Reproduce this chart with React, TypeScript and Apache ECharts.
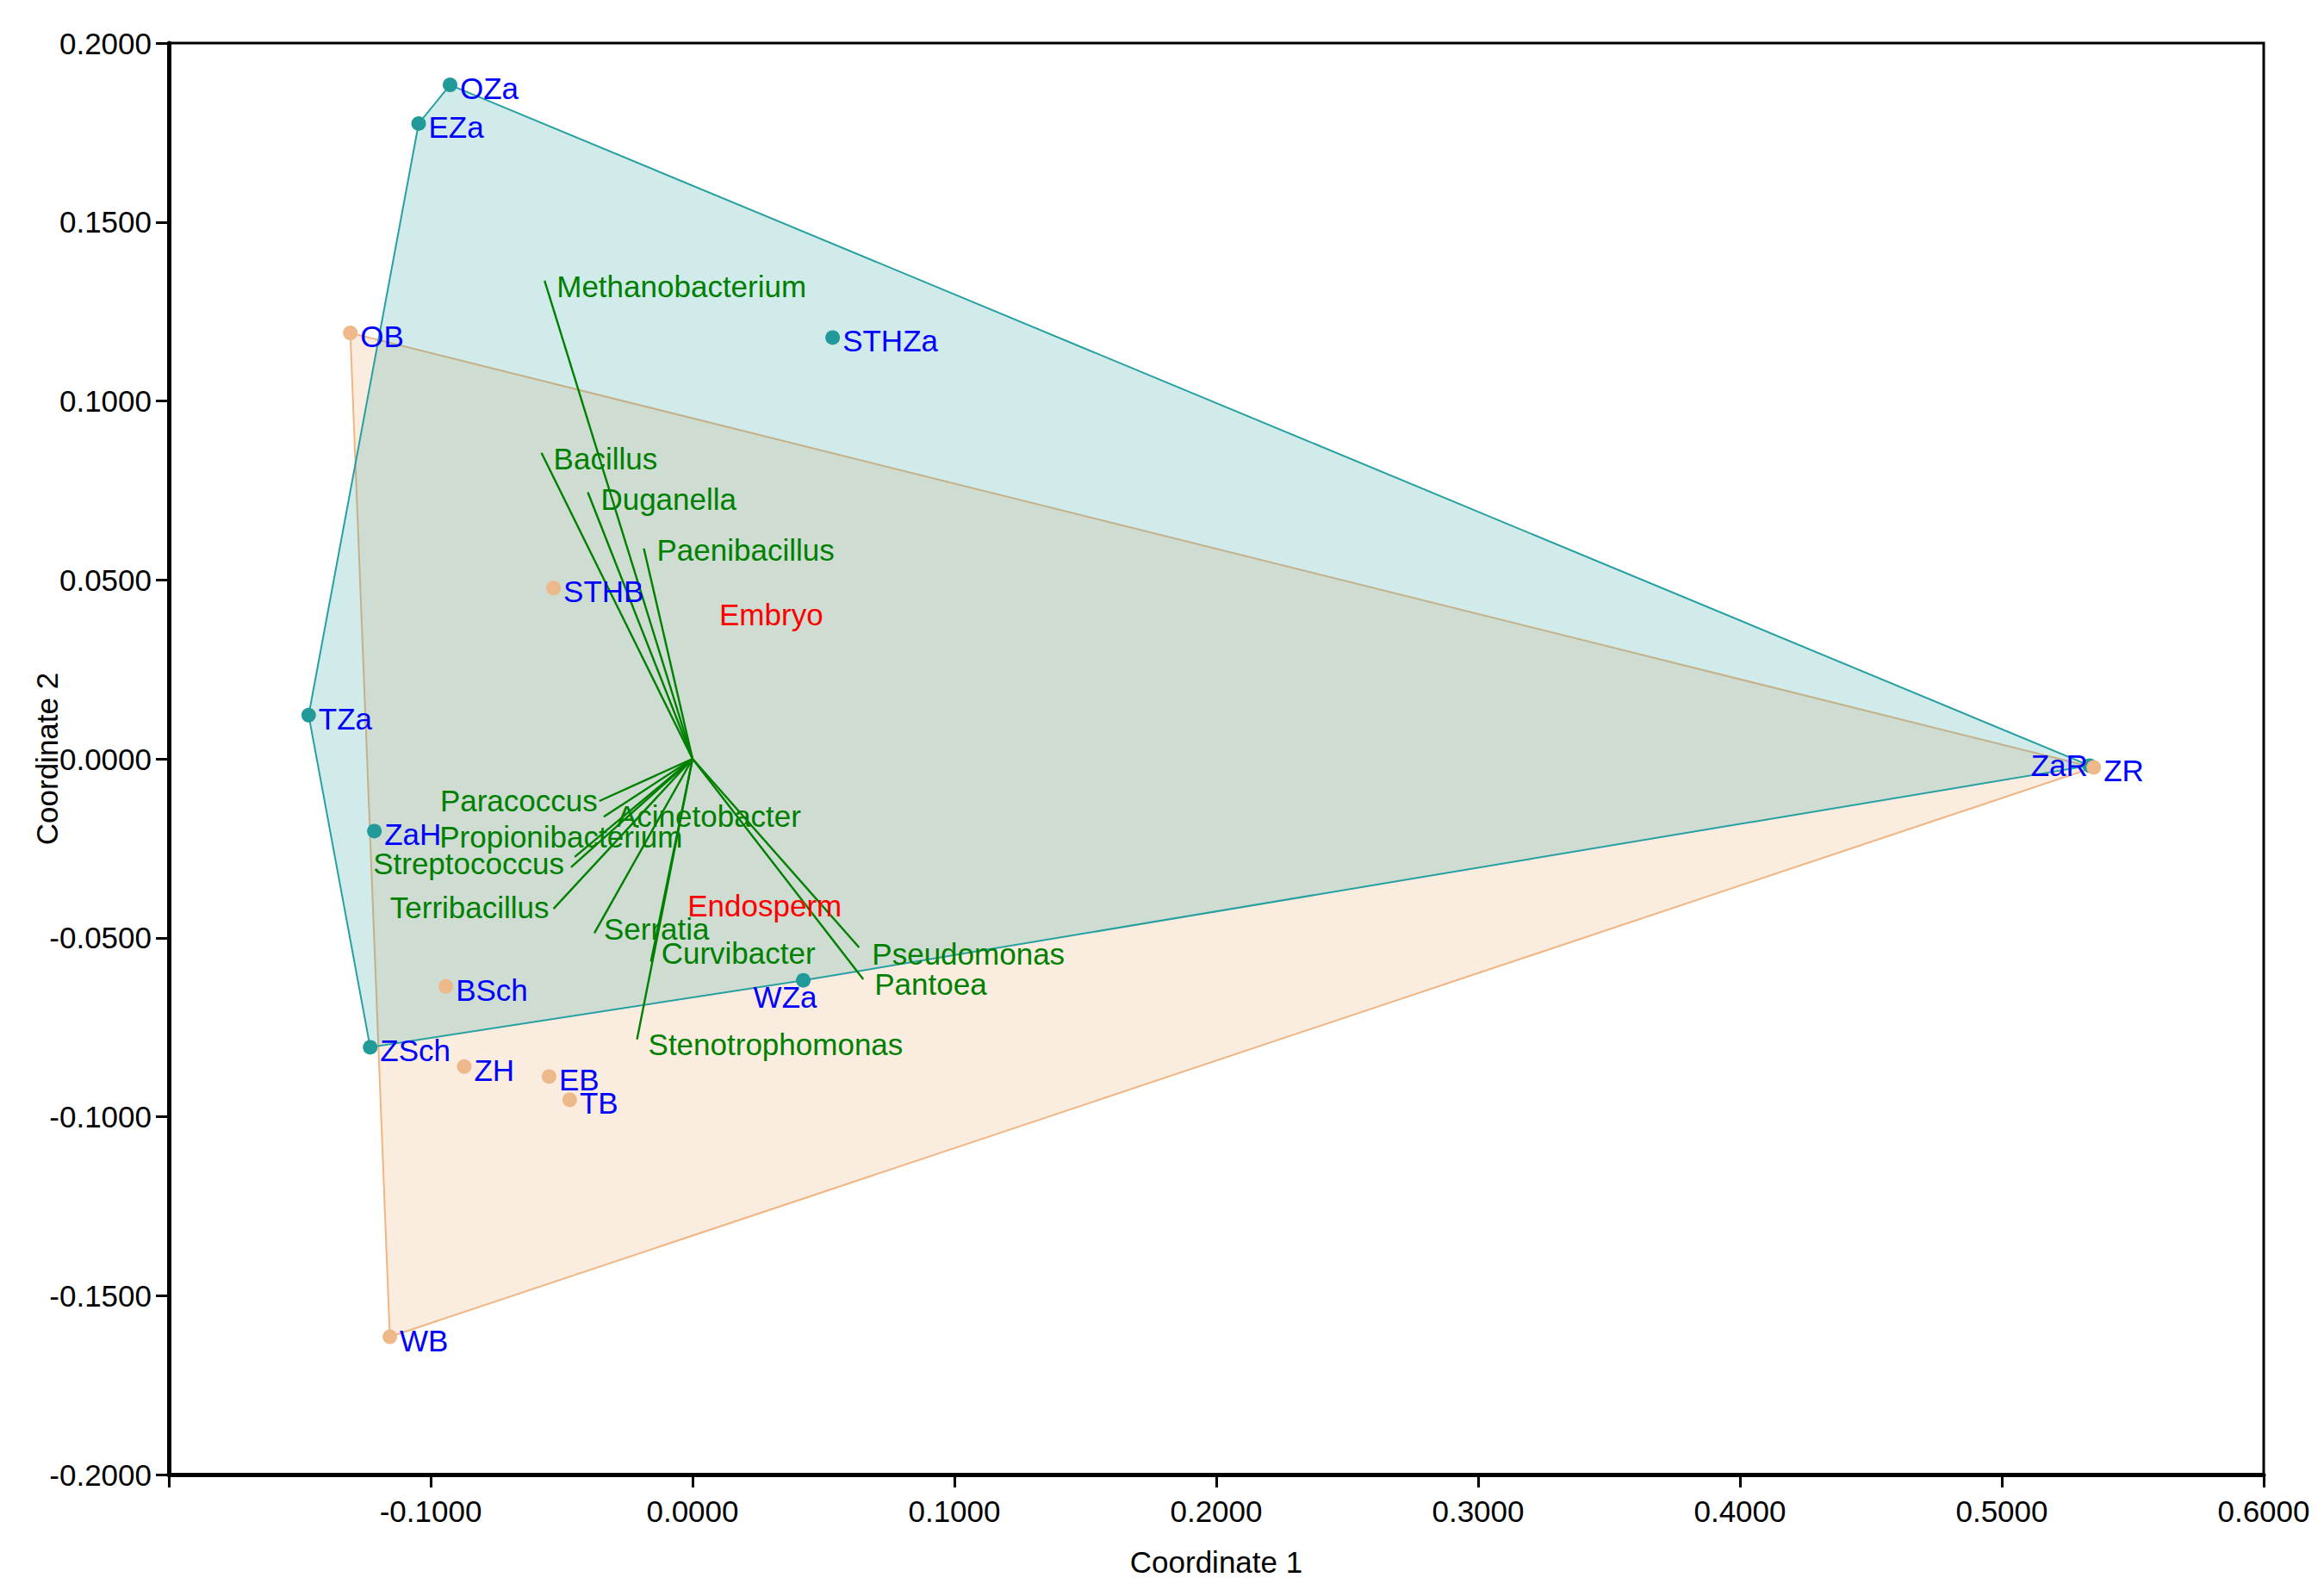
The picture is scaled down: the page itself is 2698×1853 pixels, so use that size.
import React, { useEffect, useRef } from 'react';
import * as echarts from 'echarts';

// ---- data ----
const zaNames = ['OZa', 'EZa', 'STHZa', 'TZa', 'ZaH', 'ZSch', 'WZa', 'ZaR'];
const zaX = [-0.0926, -0.1046, 0.0535, -0.1466, -0.1215, -0.1231, 0.0423, 0.5335];
const zaY = [0.1883, 0.1775, 0.1177, 0.0122, -0.0202, -0.0806, -0.0619, -0.0019];

const bNames = ['OB', 'STHB', 'BSch', 'ZH', 'EB', 'TB', 'WB', 'ZR'];
const bX = [-0.1307, -0.0531, -0.0942, -0.0872, -0.0548, -0.0469, -0.1156, 0.5351];
const bY = [0.119, 0.0477, -0.0636, -0.086, -0.0888, -0.0953, -0.1615, -0.0024];

const genusNames = [
  'Methanobacterium', 'Bacillus', 'Duganella', 'Paenibacillus', 'Paracoccus',
  'Acinetobacter', 'Propionibacterium', 'Streptococcus', 'Terribacillus', 'Serratia',
  'Curvibacter', 'Stenotrophomonas', 'Pseudomonas', 'Pantoea',
];
const genusX = [-0.0565, -0.0577, -0.04, -0.0186, -0.0356, -0.0339, -0.045, -0.0464, -0.0531, -0.0375, -0.0159, -0.0212, 0.0636, 0.0652];
const genusY = [0.1336, 0.0855, 0.0745, 0.0588, -0.0118, -0.0162, -0.0274, -0.0303, -0.0419, -0.0487, -0.0567, -0.0784, -0.0527, -0.0616];

const tissueNames = ['Embryo', 'Endosperm'];
const tissueX = [0.0102, -0.0019];
const tissueY = [0.0402, -0.0411];

const xMin = -0.2, xMax = 0.6, xStep = 0.1;
const yMin = -0.2, yMax = 0.2, yStep = 0.05;

// ---- styles ----
const FONT = '"Liberation Sans", Arial, sans-serif';
const FS = 35;
const TEAL = '#229A9A';
const TEAL_LINE = '#26A0A0';
const TEAL_FILL = 'rgba(38,160,160,0.21)';
const ORANGE = '#EDB98A';
const ORANGE_LINE = '#EFB583';
const ORANGE_FILL = 'rgba(240,180,130,0.25)';
const GREEN = '#008000';

const genusLabel: Record<string, [string, number, number]> = {
  Methanobacterium: ['left', 14, 7],
  Bacillus: ['left', 14, 7],
  Duganella: ['left', 15, 8],
  Paenibacillus: ['left', 15, 2],
  Paracoccus: ['right', -2, -1],
  Acinetobacter: ['left', 15, -1],
  Propionibacterium: ['left', -157, -23],
  Streptococcus: ['right', -8, -4],
  Terribacillus: ['right', -5, -2],
  Serratia: ['left', 11, -5],
  Curvibacter: ['left', 12, -10],
  Stenotrophomonas: ['left', 13, 6],
  Pseudomonas: ['left', 15, 8],
  Pantoea: ['left', 13, 6],
};

// per-sample label placement overrides (relative to the symbol's box)
const sampleLabelOverride: Record<string, any> = {
  ZaR: { position: [6.5, 8.5], align: 'right', verticalAlign: 'middle', offset: [0, 0] },
  WZa: { position: [-49.5, 27.5], align: 'left', verticalAlign: 'middle', offset: [0, 0] },
};

function convexHull(points: number[][]): number[][] {
  const pts = points.slice().sort((a, b) => (a[0] - b[0]) || (a[1] - b[1]));
  const cross = (o: number[], a: number[], b: number[]) =>
    (a[0] - o[0]) * (b[1] - o[1]) - (a[1] - o[1]) * (b[0] - o[0]);
  const lower: number[][] = [];
  for (const p of pts) {
    while (lower.length >= 2 && cross(lower[lower.length - 2], lower[lower.length - 1], p) <= 0) lower.pop();
    lower.push(p);
  }
  const upper: number[][] = [];
  for (let i = pts.length - 1; i >= 0; i--) {
    const p = pts[i];
    while (upper.length >= 2 && cross(upper[upper.length - 2], upper[upper.length - 1], p) <= 0) upper.pop();
    upper.push(p);
  }
  upper.pop();
  lower.pop();
  return lower.concat(upper);
}

function hullSeries(xs: number[], ys: number[], fill: string, stroke: string, z: number) {
  const hull = convexHull(xs.map((x, i) => [x, ys[i]]));
  return {
    type: 'custom',
    coordinateSystem: 'cartesian2d',
    silent: true,
    z,
    data: [[0, 0]],
    renderItem: (_params: any, api: any) => {
      const pts = hull.map((p) => api.coord(p));
      return {
        type: 'polygon',
        shape: { points: pts },
        style: { fill, stroke, lineWidth: 2 },
      };
    },
  };
}

export default function App() {
  const ref = useRef<HTMLDivElement>(null);

  useEffect(() => {
    if (!ref.current) return;
    const chart = echarts.init(ref.current, undefined, { renderer: 'svg' });

    const sampleLabel = {
      show: true,
      position: 'right',
      distance: 3,
      offset: [0, 4],
      formatter: '{b}',
      color: '#0000FF',
      fontSize: FS,
      fontFamily: FONT,
    };

    const sampleData = (names: string[], xs: number[], ys: number[]) =>
      names.map((n, i) => {
        const item: any = { name: n, value: [xs[i], ys[i]] };
        if (sampleLabelOverride[n]) item.label = sampleLabelOverride[n];
        return item;
      });

    const option: any = {
      animation: false,
      backgroundColor: '#ffffff',
      grid: {
        left: 196,
        right: 70,
        top: 50,
        bottom: 141,
        show: true,
        borderColor: '#000',
        borderWidth: 3,
        backgroundColor: 'transparent',
        containLabel: false,
      },
      xAxis: {
        type: 'value',
        min: xMin,
        max: xMax,
        interval: xStep,
        name: 'Coordinate 1',
        nameLocation: 'middle',
        nameGap: 84,
        nameMoveOverlap: false,
        nameTextStyle: { color: '#000', fontSize: FS, fontFamily: FONT },
        axisLine: { show: true, onZero: false, lineStyle: { color: '#000', width: 5 } },
        axisTick: { show: true, inside: false, length: 15, lineStyle: { color: '#000', width: 3 } },
        axisLabel: {
          color: '#000',
          fontSize: FS,
          fontFamily: FONT,
          margin: 25,
          formatter: (v: number) => (Math.abs(v - xMin) < 1e-9 ? '' : v.toFixed(4)),
        },
        splitLine: { show: false },
      },
      yAxis: {
        type: 'value',
        min: yMin,
        max: yMax,
        interval: yStep,
        name: 'Coordinate 2',
        nameLocation: 'middle',
        nameGap: 124,
        nameMoveOverlap: false,
        nameTextStyle: { color: '#000', fontSize: FS, fontFamily: FONT },
        axisLine: { show: true, onZero: false, lineStyle: { color: '#000', width: 5 } },
        axisTick: { show: true, inside: false, length: 15, lineStyle: { color: '#000', width: 3 } },
        axisLabel: {
          color: '#000',
          fontSize: FS,
          fontFamily: FONT,
          margin: 20,
          formatter: (v: number) => v.toFixed(4),
        },
        splitLine: { show: false },
      },
      series: [
        hullSeries(bX, bY, ORANGE_FILL, ORANGE_LINE, 1),
        hullSeries(zaX, zaY, TEAL_FILL, TEAL_LINE, 1),
        {
          type: 'custom',
          coordinateSystem: 'cartesian2d',
          silent: true,
          z: 2,
          data: genusNames.map((_, i) => [genusX[i], genusY[i]]),
          renderItem: (params: any, api: any) => {
            const name = genusNames[params.dataIndex];
            const o = api.coord([0, 0]);
            const e = api.coord([api.value(0), api.value(1)]);
            const [align, dx, dy] = genusLabel[name] || ['left', 14, 5];
            return {
              type: 'group',
              children: [
                {
                  type: 'line',
                  shape: { x1: o[0], y1: o[1], x2: e[0], y2: e[1] },
                  style: { stroke: GREEN, lineWidth: 2.4 },
                },
                {
                  type: 'text',
                  x: e[0] + dx,
                  y: e[1] + dy,
                  z2: 50,
                  style: {
                    text: name,
                    fill: GREEN,
                    font: `${FS}px ${FONT}`,
                    align,
                    verticalAlign: 'middle',
                  },
                },
              ],
            };
          },
        },
        {
          type: 'scatter',
          name: 'Za',
          silent: true,
          z: 3,
          symbol: 'circle',
          symbolSize: 17,
          itemStyle: { color: TEAL, opacity: 1 },
          label: sampleLabel,
          data: sampleData(zaNames, zaX, zaY),
        },
        {
          type: 'scatter',
          name: 'B',
          silent: true,
          z: 3,
          symbol: 'circle',
          symbolSize: 17,
          itemStyle: { color: ORANGE, opacity: 1 },
          label: sampleLabel,
          data: sampleData(bNames, bX, bY),
        },
        {
          type: 'custom',
          coordinateSystem: 'cartesian2d',
          silent: true,
          z: 4,
          data: tissueNames.map((_, i) => [tissueX[i], tissueY[i]]),
          renderItem: (params: any, api: any) => {
            const p = api.coord([api.value(0), api.value(1)]);
            return {
              type: 'text',
              x: p[0],
              y: p[1],
              style: {
                text: tissueNames[params.dataIndex],
                fill: '#FF0000',
                font: `${FS}px ${FONT}`,
                align: 'left',
                verticalAlign: 'middle',
              },
            };
          },
        },
      ],
    };

    chart.setOption(option);
    return () => chart.dispose();
  }, []);

  return (
    <div
      ref={ref}
      style={{ position: 'fixed', left: 0, top: 0, width: '2698px', height: '1853px', background: '#fff' }}
    />
  );
}
